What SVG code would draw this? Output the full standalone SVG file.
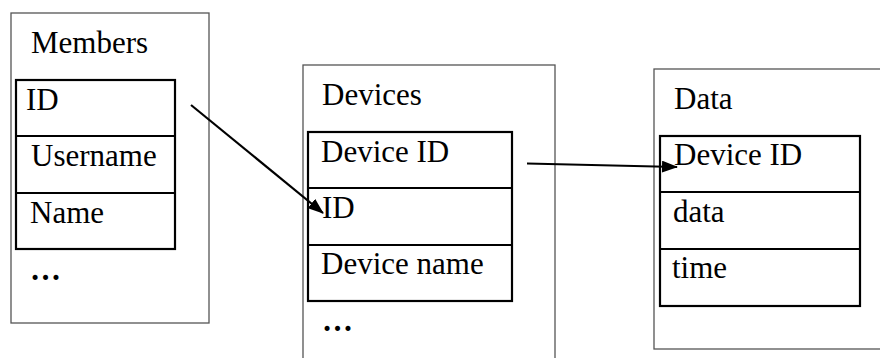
<svg xmlns="http://www.w3.org/2000/svg" width="880" height="358" viewBox="0 0 880 358">
  <style>
    .frame { fill: #fff; stroke: #555; stroke-width: 1.3; }
    .table { fill: none; stroke: #000; stroke-width: 2.2; }
    .lbl { font-family: 'Liberation Serif', 'Times New Roman', 'DejaVu Serif', serif; font-size: 31px; fill: #000; }
    .dots { font-weight: bold; }
    .conn { stroke: #000; stroke-width: 2.2; fill: none; }
  </style>
  <defs>
    <marker id="arrow" viewBox="0 0 16 12" refX="15" refY="6" markerWidth="16" markerHeight="12" markerUnits="userSpaceOnUse" orient="auto">
      <path d="M0,0 L16,6 L0,12 z" fill="#000"/>
    </marker>
  </defs>
  <rect width="880" height="358" fill="#fff"/>

  <!-- Members table -->
  <g id="members">
    <rect class="frame" x="11" y="13" width="198" height="310"/>
    <text class="lbl" x="31" y="53">Members</text>
    <rect class="table" x="16" y="80" width="159" height="169"/>
    <line class="table" x1="16" y1="136" x2="175" y2="136"/>
    <line class="table" x1="16" y1="193" x2="175" y2="193"/>
    <text class="lbl" x="26" y="110">ID</text>
    <text class="lbl" x="31" y="166">Username</text>
    <text class="lbl" x="30" y="223">Name</text>
    <text class="lbl dots" x="30" y="280">…</text>
  </g>

  <!-- Devices table -->
  <g id="devices">
    <rect class="frame" x="303" y="65" width="252" height="310"/>
    <text class="lbl" x="322" y="105">Devices</text>
    <rect class="table" x="308" y="132" width="204" height="169"/>
    <line class="table" x1="308" y1="188" x2="512" y2="188"/>
    <line class="table" x1="308" y1="245" x2="512" y2="245"/>
    <text class="lbl" x="321" y="162">Device ID</text>
    <text class="lbl" x="322" y="218">ID</text>
    <text class="lbl" x="321" y="274">Device name</text>
    <text class="lbl dots" x="322" y="331">…</text>
  </g>

  <!-- Data table -->
  <g id="data">
    <rect class="frame" x="654" y="69" width="240" height="280"/>
    <text class="lbl" x="674" y="109">Data</text>
    <rect class="table" x="660" y="136" width="200" height="170"/>
    <line class="table" x1="660" y1="192" x2="860" y2="192"/>
    <line class="table" x1="660" y1="249" x2="860" y2="249"/>
    <text class="lbl" x="674" y="165">Device ID</text>
    <text class="lbl" x="673" y="222">data</text>
    <text class="lbl" x="672" y="278">time</text>
  </g>

  <!-- Foreign-key links -->
  <g id="connectors">
    <line class="conn" x1="191" y1="105" x2="323" y2="213" marker-end="url(#arrow)"/>
    <line class="conn" x1="527" y1="163.5" x2="677" y2="167" marker-end="url(#arrow)"/>
  </g>
</svg>
